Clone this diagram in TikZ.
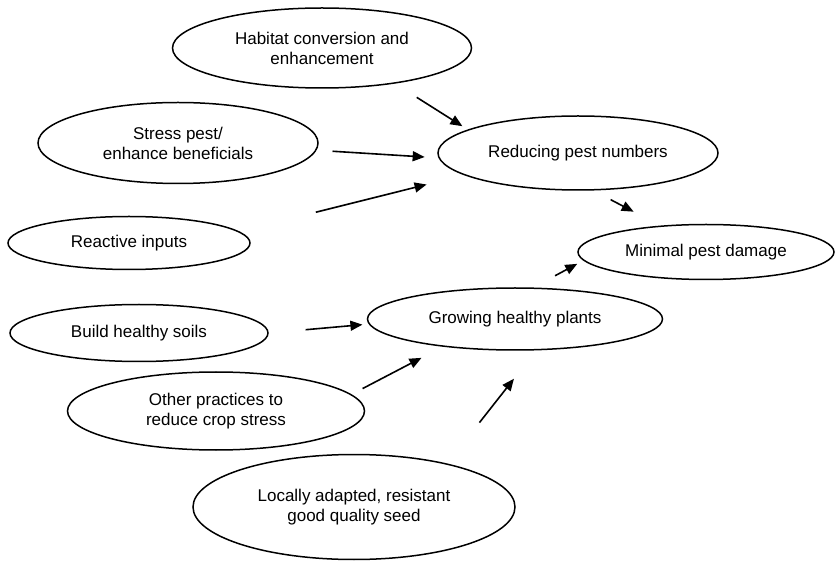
\documentclass[tikz,border=0pt]{standalone}
\usepackage{fontspec}
\setmainfont{Liberation Sans}
\usepackage{tikz}
\usetikzlibrary{arrows.meta,shapes.geometric}

\begin{document}
\begin{tikzpicture}[x=1pt,y=-1pt,
  bub/.style={ellipse,draw,line width=1.5pt,inner sep=0pt,align=center,font=\fontsize{17}{20}\selectfont},
  arr/.style={line width=1.6pt,-{Triangle[length=12pt,width=10pt]}}]
\useasboundingbox (0,0) rectangle (836,561);
\node[bub,minimum width=299pt,minimum height=80pt] (hab) at (322,48) {Habitat conversion and\\enhancement};
\node[bub,minimum width=280pt,minimum height=81pt] (stress) at (178,143) {Stress pest/\\enhance beneficials};
\node[bub,minimum width=242pt,minimum height=53pt] (react) at (129,243) {Reactive inputs};
\node[bub,minimum width=280pt,minimum height=74pt] (red) at (578,153) {Reducing pest numbers};
\node[bub,minimum width=256pt,minimum height=55pt] (minp) at (706,252) {Minimal pest damage};
\node[bub,minimum width=258pt,minimum height=57pt] (soil) at (139,333) {Build healthy soils};
\node[bub,minimum width=295pt,minimum height=62pt] (grow) at (515,319) {Growing healthy plants};
\node[bub,minimum width=297pt,minimum height=78pt] (other) at (216,411) {Other practices to\\reduce crop stress};
\node[bub,minimum width=322pt,minimum height=105pt] (seed) at (354,507) {Locally adapted, resistant\\good quality seed};
% arrows float in the gaps
\draw[arr,shorten <=25.7pt,shorten >=6.3pt] (hab.-26.8) -- (red.168.4);
\draw[arr,shorten <=16pt,shorten >=13.8pt] (stress.-3.9) -- (red.-178.1);
\draw[arr,shorten <=79pt,shorten >=38.6pt] (react.6.3) -- (red.-169.2);
\draw[arr,shorten <=19.7pt,shorten >=30pt] (red.-68.1) -- (minp.150.6);
\draw[arr,shorten <=24.8pt,shorten >=6.9pt] (grow.60.5) -- (minp.-176.5);
\draw[arr,shorten <=37pt,shorten >=6.3pt] (soil.0.8) -- (grow.-178.6);
\draw[arr,shorten <=12.5pt,shorten >=24pt] (other.7.5) -- (grow.-159.1);
\draw[arr,shorten <=52pt,shorten >=36pt] (seed.25.6) -- (grow.-56.4);
\end{tikzpicture}
\end{document}
